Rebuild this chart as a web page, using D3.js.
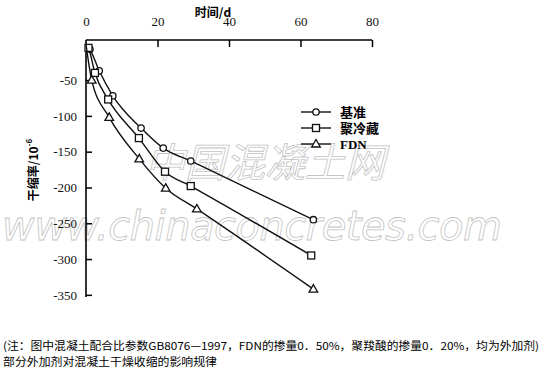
<!DOCTYPE html>
<html>
<head>
<meta charset="utf-8">
<script src="https://cdn.jsdelivr.net/npm/d3@7"></script>
<style>
  body { margin: 0; background: #fff; }
  svg { display: block; }
  .tick text { font-family: "Liberation Serif", "DejaVu Serif", serif; font-size: 13px; fill: #111; }
</style>
</head>
<body>
<svg id="chart" width="541" height="379"></svg>
<script>
// data (days, shrinkage x10^-6)
var xTicks = [0, 20, 40, 60, 80];
var yTicks = [-50, -100, -150, -200, -250, -300, -350];
var seriesNames = ["基准", "聚冷藏", "FDN"];
var baseDays = [0, 1.1, 3.7, 7.5, 15.4, 21.6, 29.3, 63.6];
var baseVals = [0, -7, -37, -72, -117, -145, -163, -245];
var coldDays = [0, 0.7, 2.5, 6.2, 14.8, 22.1, 29.3, 63.0];
var coldVals = [0, -5, -40, -77, -131, -178, -198, -295];
var fdnDays = [0, 1.6, 6.5, 14.9, 22.3, 31.0, 63.6];
var fdnVals = [0, -50, -102, -160, -201, -230, -342];
var markers = ["circle", "square", "triangle"];

var svg = d3.select("#chart");

var x = d3.scaleLinear().domain([0, 80]).range([86, 372]);
var y = d3.scaleLinear().domain([6, -353]).range([40, 297]);

var serif = "'Liberation Serif', 'DejaVu Serif', serif";
var cjk = "'Noto Sans CJK SC', sans-serif";

// watermark
svg.append("text")
  .attr("x", 145).attr("y", 177)
  .attr("textLength", 240)
  .style("font-family", cjk).style("font-size", "40px").style("font-style", "italic")
  .style("fill", "none").style("stroke", "#c4c4c4").style("stroke-width", 0.8)
  .text("中国混凝土网");
svg.append("text")
  .attr("x", 2).attr("y", 240)
  .attr("textLength", 500)
  .style("font-family", "'DejaVu Sans', sans-serif").style("font-size", "40px").style("font-style", "italic")
  .style("font-weight", "200")
  .style("fill", "none").style("stroke", "#c4c4c4").style("stroke-width", 0.8)
  .text("www.chinaconcretes.com");

// axes
var xAxis = d3.axisTop(x).tickValues(xTicks).tickSize(-7).tickPadding(14).tickFormat(d3.format("d"));
var gx = svg.append("g").attr("transform", "translate(0,40)").call(xAxis);
gx.select(".domain").attr("d", "M86,0H372").style("stroke", "#000").style("stroke-width", 1.6);
gx.selectAll(".tick line").style("stroke-width", 1.5);
gx.selectAll(".tick").filter(function(d) { return d === 0; }).select("line").remove();

var yAxis = d3.axisLeft(y).tickValues(yTicks).tickSize(-6).tickPadding(9).tickFormat(function(d) { return "-" + Math.abs(d); });
var gy = svg.append("g").attr("transform", "translate(86,0)").call(yAxis);
gy.select(".domain").attr("d", "M0,40V297").style("stroke", "#000").style("stroke-width", 1.6);
gy.selectAll(".tick line").style("stroke-width", 1.5);

// axis titles
svg.append("text")
  .attr("x", 213).attr("y", 17)
  .attr("text-anchor", "middle")
  .style("font-family", cjk).style("font-size", "12px").style("font-weight", "bold")
  .text("时间/d");

var yl = svg.append("text")
  .attr("transform", "translate(38,170)rotate(-90)")
  .attr("text-anchor", "middle")
  .style("font-family", cjk).style("font-size", "12px").style("font-weight", "bold");
yl.append("tspan").text("干缩率/10");
yl.append("tspan").attr("dy", -6).style("font-size", "8px").text("-6");

// lines
var series = [
  { days: baseDays, vals: baseVals },
  { days: coldDays, vals: coldVals },
  { days: fdnDays, vals: fdnVals }
];

var line = d3.line()
  .x(function(d) { return x(d[0]); })
  .y(function(d) { return y(d[1]); })
  .curve(d3.curveMonotoneX);

function drawMarker(g, type, cx, cy) {
  if (type === "circle") {
    g.append("circle").attr("cx", cx).attr("cy", cy).attr("r", 3.2);
  } else if (type === "square") {
    g.append("rect").attr("x", cx - 3.5).attr("y", cy - 3.5).attr("width", 7).attr("height", 7);
  } else {
    g.append("path").attr("d", "M" + cx + "," + (cy - 4.5) + "L" + (cx + 4.3) + "," + (cy + 3) + "L" + (cx - 4.3) + "," + (cy + 3) + "Z");
  }
}

series.forEach(function(s, i) {
  var pts = s.days.map(function(d, j) { return [d, s.vals[j]]; });
  svg.append("path")
    .attr("d", line(pts))
    .style("fill", "none").style("stroke", "#111").style("stroke-width", 1.4);
  var g = svg.append("g").style("fill", "#fff").style("stroke", "#111").style("stroke-width", 1.3);
  pts.forEach(function(p, j) {
    if (j === 0) return;
    drawMarker(g, markers[i], x(p[0]), y(p[1]));
  });
});

// legend
var legend = svg.selectAll(".legend")
  .data(seriesNames)
  .enter().append("g")
  .attr("class", "legend")
  .attr("transform", function(d, i) { return "translate(301," + (112 + i * 16) + ")"; });

legend.append("line")
  .attr("x1", 0).attr("x2", 30)
  .style("stroke", "#111").style("stroke-width", 1.4);
legend.each(function(d, i) {
  var g = d3.select(this).append("g").style("fill", "#fff").style("stroke", "#111").style("stroke-width", 1.3);
  drawMarker(g, markers[i], 15, 0);
});
legend.append("text")
  .attr("x", 39).attr("y", 0).attr("dy", "0.35em")
  .style("font-family", function(d, i) { return i === 2 ? serif : cjk; })
  .style("font-size", "13px").style("font-weight", "bold")
  .text(function(d) { return d; });

// caption
svg.append("text")
  .attr("x", 3).attr("y", 350)
  .attr("textLength", 536).attr("lengthAdjust", "spacingAndGlyphs")
  .style("font-family", cjk).style("font-size", "11px")
  .text("(注：图中混凝土配合比参数GB8076—1997，FDN的掺量0．50%，聚羧酸的掺量0．20%，均为外加剂)");
svg.append("text")
  .attr("x", 3).attr("y", 366)
  .attr("textLength", 214).attr("lengthAdjust", "spacingAndGlyphs")
  .style("font-family", cjk).style("font-size", "11px")
  .text("部分外加剂对混凝土干燥收缩的影响规律");
</script>
</body>
</html>
